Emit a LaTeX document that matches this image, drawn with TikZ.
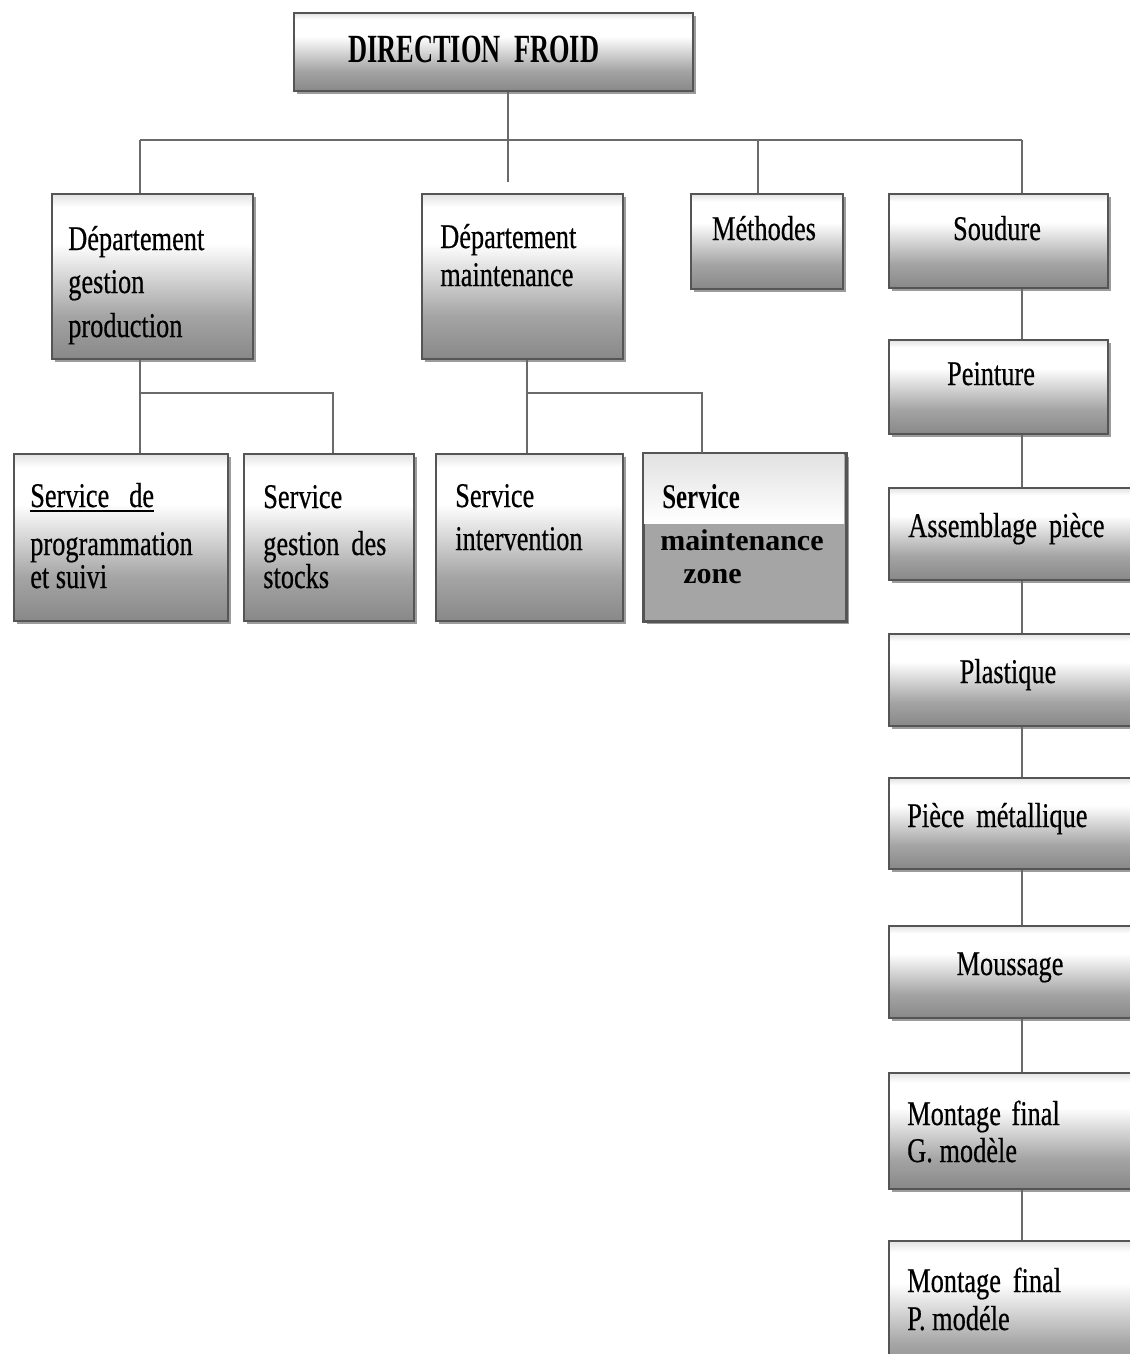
\documentclass[tikz,border=0pt]{standalone}
\usepackage{fontspec}
\setmainfont{Liberation Serif}[FakeStretch=0.76,FakeBold=0.4]
\newfontfamily\dirfont{Liberation Serif}[FakeStretch=0.66]
\newfontfamily\bcfont{Liberation Serif}[FakeStretch=0.72]
\newfontfamily\widefont{Liberation Serif}
\usetikzlibrary{shadows}
\definecolor{shA}{HTML}{888888}
\definecolor{shB}{HTML}{A4A4A4}
\definecolor{shT}{HTML}{E2E2E2}
\definecolor{bord}{HTML}{555555}
\definecolor{lnc}{HTML}{6A6A6A}
\definecolor{zoneg}{HTML}{A5A5A5}
\pgfdeclareverticalshading{boxshade}{100bp}{color(0bp)=(shA); color(25bp)=(shA); color(38bp)=(shB); color(60bp)=(white); color(71bp)=(white); color(75bp)=(shT); color(100bp)=(shT)}
\tikzset{
  boxst/.style={draw=bord, line width=1.5pt, shading=boxshade, inner sep=0pt, anchor=north west,
    drop shadow={shadow xshift=2pt, shadow yshift=-2pt, opacity=0.55, fill=black!70}},
  zonest/.style={draw=bord, line width=1.5pt, fill=zoneg, inner sep=0pt, anchor=north west,
    drop shadow={shadow xshift=2pt, shadow yshift=-2pt, opacity=0.55, fill=black!70}},
  conn/.style={draw=lnc, line width=2.2pt},
  lbl/.style={inner sep=0pt, font=\fontsize{26}{30}\selectfont, text=black},
}
\newcommand\orgbox[6][boxst]{\node[#1, minimum width=#5*0.75pt, minimum height=#6*0.75pt] (#2) at (#3,#4) {};}
\begin{document}
\begin{tikzpicture}[x=0.75pt,y=-0.75pt]
\useasboundingbox (0,0) rectangle (1130,1354);
\clip (0,0) rectangle (1130,1354);
\fill[white] (0,0) rectangle (1130,1354);

% coordinates for connectors
\coordinate (busL) at (140,140);
\coordinate (busR) at (1022,140);
\coordinate (dirEnd) at (508,182);
\coordinate (metX) at (758,140);
\coordinate (j1) at (140,393);
\coordinate (j2) at (333,393);
\coordinate (j3) at (527,393);
\coordinate (j4) at (702,393);
\coordinate (colx) at (1022,0);

% boxes
\orgbox{dir}{293}{12}{399}{78}
\orgbox{dgp}{51}{193}{201}{165}
\orgbox{dmt}{421}{193}{201}{165}
\orgbox{met}{690}{193}{152}{95}
\orgbox{sou}{888}{193}{219}{94}
\orgbox{pei}{888}{339}{219}{94}
\orgbox{ass}{888}{487}{262}{92}
\orgbox{pla}{888}{633}{262}{92}
\orgbox{pie}{888}{777}{262}{91}
\orgbox{mou}{888}{925}{262}{92}
\orgbox{mg}{888}{1072}{262}{116}
\orgbox{mp}{888}{1240}{262}{140}
\orgbox{sps}{13}{453}{214}{167}
\orgbox{ssg}{243}{453}{170}{167}
\orgbox{sin}{435}{453}{187}{167}
\orgbox[zonest]{smz}{643}{453}{202}{167}
\shade[top color=shT, bottom color=white] ([xshift=0.75pt,yshift=-0.75pt]smz.north west) rectangle (844,523);
\draw[draw=bord, line width=1.5pt] (smz.north west) rectangle (smz.south east);

% connectors
\draw[conn] (busL) -- (busR);
\draw[conn] (dir.south -| dirEnd) -- (dirEnd);
\draw[conn] (busL) -- (busL |- dgp.north);
\draw[conn] (metX) -- (metX |- met.north);
\draw[conn] (busR) -- (busR |- sou.north);
\draw[conn] (dgp.south -| j1) -- (j1) -- (j2) -- (j2 |- ssg.north);
\draw[conn] (j1) -- (j1 |- sps.north);
\draw[conn] (dmt.south -| j3) -- (j3) -- (j4) -- (j4 |- smz.north);
\draw[conn] (j3) -- (j3 |- sin.north);
\draw[conn] (sou.south -| colx) -- (pei.north -| colx);
\draw[conn] (pei.south -| colx) -- (ass.north -| colx);
\draw[conn] (ass.south -| colx) -- (pla.north -| colx);
\draw[conn] (pla.south -| colx) -- (pie.north -| colx);
\draw[conn] (pie.south -| colx) -- (mou.north -| colx);
\draw[conn] (mou.south -| colx) -- (mg.north -| colx);
\draw[conn] (mg.south -| colx) -- (mp.north -| colx);

% labels
\node[lbl, anchor=base west, font=\dirfont\bfseries\fontsize{30}{34}\selectfont] (tdir) at (348,62) {DIRECTION\hspace{10pt}FROID};

\node[lbl, anchor=base west] (tdgp1) at (68,250) {Département};
\node[lbl, anchor=base west] (tdgp2) at (68,293) {gestion};
\node[lbl, anchor=base west] (tdgp3) at (68,337) {production};

\node[lbl, anchor=base west] (tdmt1) at (440,248) {Département};
\node[lbl, anchor=base west] (tdmt2) at (440,286) {maintenance};

\node[lbl, anchor=base] (tmet) at (764,240) {Méthodes};
\node[lbl, anchor=base] (tsou) at (997,240) {Soudure};
\node[lbl, anchor=base] (tpei) at (991,385) {Peinture};
\node[lbl, anchor=base west] (tass) at (908,537) {Assemblage\hspace{4pt} pièce};
\node[lbl, anchor=base] (tpla) at (1008,683) {Plastique};
\node[lbl, anchor=base west] (tpie) at (907,827) {Pièce\hspace{4pt} métallique};
\node[lbl, anchor=base] (tmou) at (1010,975) {Moussage};
\node[lbl, anchor=base west] (tmg1) at (907,1125) {Montage\hspace{3pt} final};
\node[lbl, anchor=base west] (tmg2) at (907,1162) {G. modèle};
\node[lbl, anchor=base west] (tmp1) at (907,1292) {Montage\hspace{4pt} final};
\node[lbl, anchor=base west] (tmp2) at (907,1330) {P. modéle};

\node[lbl, anchor=base west] (tsps1) at (30,507) {Service\hspace{10pt} de};
\draw[line width=1.3pt] ([yshift=-3pt]tsps1.base west) -- ([yshift=-3pt]tsps1.base east);
\node[lbl, anchor=base west] (tsps2) at (30,555) {programmation};
\node[lbl, anchor=base west] (tsps3) at (30,588) {et suivi};

\node[lbl, anchor=base west] (tssg1) at (263,508) {Service};
\node[lbl, anchor=base west] (tssg2) at (263,555) {gestion\hspace{4pt} des};
\node[lbl, anchor=base west] (tssg3) at (263,588) {stocks};

\node[lbl, anchor=base west] (tsin1) at (455,507) {Service};
\node[lbl, anchor=base west] (tsin2) at (455,550) {intervention};

\node[lbl, anchor=base west, font=\bcfont\bfseries\fontsize{26}{30}\selectfont] (tsmz1) at (662,508) {Service};
\node[lbl, anchor=base west, font=\widefont\bfseries\fontsize{22.5}{27}\selectfont] (tsmz2) at (660,550) {maintenance};
\node[lbl, anchor=base west, font=\widefont\bfseries\fontsize{22.5}{27}\selectfont] (tsmz3) at (683,583) {zone};
\end{tikzpicture}
\end{document}
